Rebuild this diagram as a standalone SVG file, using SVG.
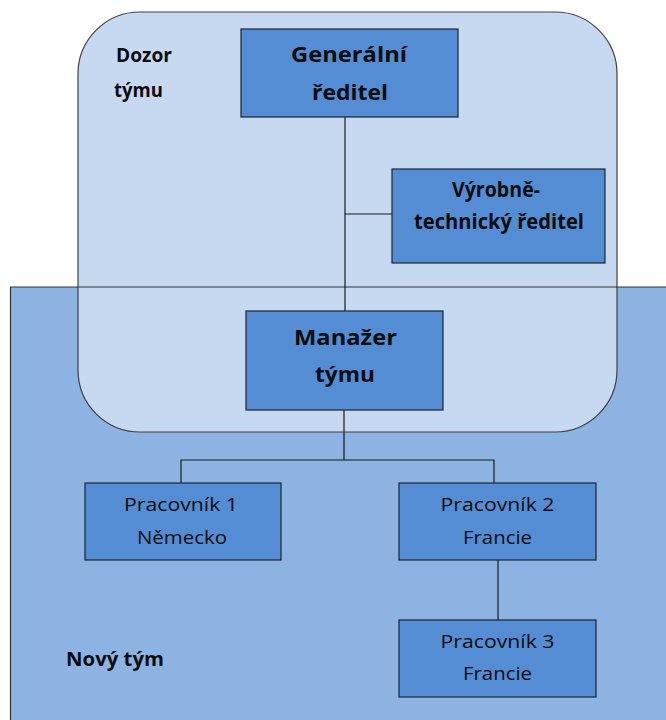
<svg xmlns="http://www.w3.org/2000/svg" width="666" height="720" viewBox="0 0 666 720">
  <style>
    .box { fill: #548dd4; stroke: #1c2530; stroke-width: 1.2; }
    .t { font-family: "Open Sans", "Liberation Sans", Arial, sans-serif; fill: #0d0d0d; text-anchor: middle; }
    .b { font-weight: bold; font-size: 21px; }
    .n { font-size: 18px; }
    .lbl { font-family: "Open Sans", "Liberation Sans", Arial, sans-serif; font-weight: bold; font-size: 19px; fill: #0d0d0d; }
    .conn { stroke: #1a1a1a; stroke-width: 1.2; fill: none; }
  </style>

  <rect width="666" height="720" fill="#ffffff"/>

  <!-- team area -->
  <g id="novy-tym">
    <rect x="10" y="287" width="670" height="450" fill="#8db3e2"/>
  </g>

  <!-- supervision area -->
  <g id="dozor-tymu">
    <rect x="78" y="12" width="539" height="420" rx="62" ry="62" fill="#c6d9f1" stroke="#404040" stroke-width="1.2"/>
    <text class="lbl" x="116" y="62" textLength="56" lengthAdjust="spacingAndGlyphs">Dozor</text>
    <text class="lbl" x="114" y="97" textLength="49" lengthAdjust="spacingAndGlyphs">týmu</text>
  </g>

  <!-- team area outline drawn on top -->
  <path d="M666 287 H10.5 V720" fill="none" stroke="#333333" stroke-width="1.2"/>
  <text class="lbl" x="66" y="666" textLength="98" lengthAdjust="spacingAndGlyphs">Nový tým</text>

  <g id="connectors">
    <path class="conn" d="M345 117 V311"/>
    <path class="conn" d="M345 214 H392"/>
    <path class="conn" d="M344 410 V460"/>
    <path class="conn" d="M181 483 V460 H494 V483"/>
    <path class="conn" d="M498 560 V620"/>
  </g>

  <g id="generalni-reditel">
    <rect class="box" x="241" y="29" width="217" height="88"/>
    <text class="t b" x="349" y="62" textLength="116" lengthAdjust="spacingAndGlyphs">Generální</text>
    <text class="t b" x="350" y="100" textLength="76" lengthAdjust="spacingAndGlyphs">ředitel</text>
  </g>

  <g id="vyrobne-technicky-reditel">
    <rect class="box" x="392" y="169" width="213" height="94"/>
    <text class="t b" x="496" y="197" textLength="88" lengthAdjust="spacingAndGlyphs" font-size="18">Výrobně-</text>
    <text class="t b" x="499" y="229" textLength="170" lengthAdjust="spacingAndGlyphs" font-size="18">technický ředitel</text>
  </g>

  <g id="manazer-tymu">
    <rect class="box" x="246" y="311" width="197" height="99"/>
    <text class="t b" x="345.5" y="345" textLength="103" lengthAdjust="spacingAndGlyphs">Manažer</text>
    <text class="t b" x="345" y="382" textLength="60" lengthAdjust="spacingAndGlyphs">týmu</text>
  </g>

  <g id="pracovnik-1">
    <rect class="box" x="85" y="483" width="196" height="77"/>
    <text class="t n" x="181" y="511" textLength="114" lengthAdjust="spacingAndGlyphs">Pracovník 1</text>
    <text class="t n" x="182" y="544" textLength="90" lengthAdjust="spacingAndGlyphs">Německo</text>
  </g>

  <g id="pracovnik-2">
    <rect class="box" x="399" y="483" width="197" height="77"/>
    <text class="t n" x="497.5" y="511" textLength="114" lengthAdjust="spacingAndGlyphs">Pracovník 2</text>
    <text class="t n" x="497.5" y="544" textLength="69" lengthAdjust="spacingAndGlyphs">Francie</text>
  </g>

  <g id="pracovnik-3">
    <rect class="box" x="399" y="620" width="197" height="77"/>
    <text class="t n" x="497.5" y="648" textLength="114" lengthAdjust="spacingAndGlyphs">Pracovník 3</text>
    <text class="t n" x="497.5" y="680" textLength="69" lengthAdjust="spacingAndGlyphs">Francie</text>
  </g>
</svg>
